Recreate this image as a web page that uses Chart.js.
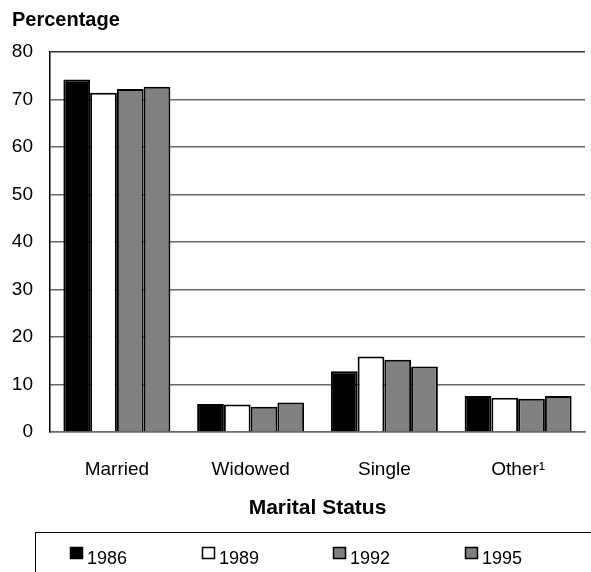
<!DOCTYPE html>
<html>
<head>
<meta charset="utf-8">
<script src="https://cdn.jsdelivr.net/npm/chart.js@4.4.0/dist/chart.umd.min.js"></script>
<style>
  html, body { margin: 0; padding: 0; background: #fff; }
  #wrap { width: 591px; height: 572px; }
</style>
</head>
<body>
<div id="wrap"><canvas id="maritalChart"></canvas></div>
<script>
// Data
const categories = ['Married', 'Widowed', 'Single', 'Other\u00B9'];
const years = ['1986', '1989', '1992', '1995'];
const values1986 = [74.2, 5.9, 12.8, 7.6];
const values1989 = [71.4, 5.8, 15.9, 7.2];
const values1992 = [72.2, 5.3, 15.2, 7.0];
const values1995 = [72.7, 6.2, 13.8, 7.6];
const yTicks = [0, 10, 20, 30, 40, 50, 60, 70, 80];

const fills = ['#000000', '#ffffff', '#808080', '#808080'];
const series = [values1986, values1989, values1992, values1995];
const FONT = 'Liberation Sans, Arial, sans-serif';

const datasets = years.map(function (yr, i) {
    return {
        label: yr,
        data: series[i],
        backgroundColor: fills[i],
        borderColor: '#000',
        borderWidth: 2,
        borderSkipped: 'bottom',
        categoryPercentage: 0.8,
        barPercentage: 1.0
    };
});

// Legend in a box along the bottom, drawn by hand like the original
const legendBox = {
    id: 'legendBox',
    afterDraw(chart) {
        const c = chart.ctx;
        const top = chart.height - 40;
        c.save();
        c.strokeStyle = '#000';
        c.lineWidth = 1;
        c.strokeRect(35.5, top + 0.5, chart.width, 60);
        c.font = '18px ' + FONT;
        c.textBaseline = 'alphabetic';
        c.textAlign = 'left';
        years.forEach(function (yr, i) {
            const x = 70 + Math.round(i * 131.7);
            c.fillStyle = fills[i];
            c.fillRect(x + 0.5, top + 15.5, 12, 11);
            c.strokeStyle = '#000';
            c.lineWidth = 1.5;
            c.strokeRect(x + 0.5, top + 15.5, 12, 11);
            c.fillStyle = '#000';
            c.fillText(yr, x + 17, top + 32);
        });
        c.restore();
    }
};

const ctx = document.getElementById('maritalChart').getContext('2d');
window.myChart = new Chart(ctx, {
    type: 'bar',
    data: { labels: categories, datasets: datasets },
    plugins: [legendBox],
    options: {
        responsive: true,
        maintainAspectRatio: false,
        animation: false,
        layout: { padding: { left: 12, right: 6, top: 8, bottom: 40 } },
        plugins: {
            tooltip: { enabled: false },
            legend: { display: false },
            title: {
                display: true,
                text: 'Percentage',
                align: 'start',
                color: '#000',
                font: { family: FONT, size: 20, weight: 'bold' },
                padding: { top: 0, bottom: 20 }
            }
        },
        scales: {
            x: {
                afterFit: function (axis) { axis.height = 100; },
                grid: { display: false, drawTicks: false, tickLength: 0 },
                border: { color: '#666', width: 1.5 },
                ticks: {
                    color: '#000',
                    padding: 26,
                    maxRotation: 0,
                    autoSkip: false,
                    font: { family: FONT, size: 19 }
                },
                title: {
                    display: true,
                    text: 'Marital Status',
                    color: '#000',
                    padding: { top: 14, bottom: 11 },
                    font: { family: FONT, size: 21, weight: 'bold' }
                }
            },
            y: {
                min: 0,
                max: 80,
                afterFit: function (axis) { axis.width = 38; },
                afterBuildTicks: function (axis) {
                    axis.ticks = yTicks.map(function (v) { return { value: v }; });
                },
                grid: {
                    color: function (c) { return c.tick && c.tick.value === 80 ? '#333' : '#666'; },
                    lineWidth: 1.5,
                    drawTicks: false,
                    tickLength: 0
                },
                border: { color: '#000', width: 1.5 },
                ticks: {
                    color: '#000',
                    padding: 17,
                    font: { family: FONT, size: 19 }
                }
            }
        }
    }
});
</script>
</body>
</html>
